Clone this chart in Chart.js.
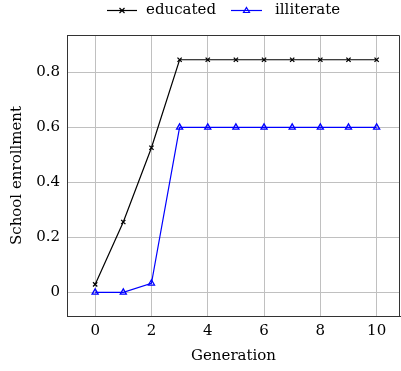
<!DOCTYPE html>
<html>
<head>
<meta charset="utf-8">
<script src="https://cdn.jsdelivr.net/npm/chart.js@4"></script>
<style>
  html, body { margin: 0; padding: 0; background: #fff; }
  #wrap { width: 401px; height: 371px; position: relative; }
</style>
</head>
<body>
<div id="wrap"><canvas id="chart" width="401" height="371"></canvas></div>
<script>
// values
const generations = [0, 1, 2, 3, 4, 5, 6, 7, 8, 9, 10];
const educated = [0.029, 0.256, 0.526, 0.846, 0.846, 0.846, 0.846, 0.846, 0.846, 0.846, 0.846];
const illiterate = [0, 0, 0.033, 0.6, 0.6, 0.6, 0.6, 0.6, 0.6, 0.6, 0.6];
const xTicks = [0, 2, 4, 6, 8, 10];
const yTicks = [0, 0.2, 0.4, 0.6, 0.8];

const FONT = '"DejaVu Serif", "Liberation Serif", serif';

function pts(ys) { return generations.map((x, i) => ({ x: x, y: ys[i] })); }

// legend drawn at top like pgfplots
const legendPlugin = {
    id: 'topLegend',
    afterDraw(chart) {
        const ctx = chart.ctx;
        const y = 10.5;
        ctx.save();
        ctx.font = '15px ' + FONT;
        ctx.textBaseline = 'middle';
        ctx.fillStyle = '#000';
        // educated
        ctx.strokeStyle = '#000'; ctx.lineWidth = 1.2;
        ctx.beginPath(); ctx.moveTo(107, y); ctx.lineTo(137, y); ctx.stroke();
        ctx.beginPath();
        ctx.moveTo(122 - 2.5, y - 2.5); ctx.lineTo(122 + 2.5, y + 2.5);
        ctx.moveTo(122 - 2.5, y + 2.5); ctx.lineTo(122 + 2.5, y - 2.5);
        ctx.stroke();
        ctx.fillText('educated', 146, y);
        // illiterate
        ctx.strokeStyle = '#0000ff';
        ctx.beginPath(); ctx.moveTo(231, y); ctx.lineTo(262, y); ctx.stroke();
        ctx.beginPath();
        ctx.moveTo(246.5, y - 3); ctx.lineTo(249.5, y + 2); ctx.lineTo(243.5, y + 2); ctx.closePath();
        ctx.stroke();
        ctx.fillText('illiterate', 275, y);
        // frame top/right
        const a = chart.chartArea;
        ctx.strokeStyle = '#333'; ctx.lineWidth = 1;
        ctx.beginPath();
        ctx.moveTo(a.left, a.top + 0.5); ctx.lineTo(a.right - 0.5, a.top + 0.5); ctx.lineTo(a.right - 0.5, a.bottom);
        ctx.stroke();
        ctx.restore();
    }
};

new Chart(document.getElementById('chart'), {
    type: 'line',
    data: {
        datasets: [
            {
                label: 'educated',
                data: pts(educated),
                borderColor: '#000',
                backgroundColor: '#000',
                borderWidth: 1.2,
                pointStyle: 'crossRot',
                pointRadius: 3,
                pointBorderWidth: 1.3,
                tension: 0
            },
            {
                label: 'illiterate',
                data: pts(illiterate),
                borderColor: '#0000ff',
                backgroundColor: 'rgba(0,0,0,0)',
                borderWidth: 1.2,
                pointStyle: 'triangle',
                pointRadius: 3.5,
                pointBorderWidth: 1.3,
                tension: 0
            }
        ]
    },
    options: {
        responsive: false,
        animation: false,
        layout: { autoPadding: false, padding: { top: 35, right: 1, left: 0, bottom: 0 } },
        plugins: { legend: { display: false }, tooltip: { enabled: false } },
        scales: {
            x: {
                type: 'linear',
                min: -1.0,
                max: 10.83,
                afterBuildTicks: s => { s.ticks = xTicks.map(v => ({ value: v })); },
                afterFit: s => { s.height = 55; s.paddingLeft = 0; s.paddingRight = 0; },
                grid: { color: '#c0c0c0', drawTicks: false, lineWidth: 1 },
                border: { color: '#333', width: 1 },
                ticks: { color: '#000', padding: 6, font: { family: FONT, size: 15 }, maxRotation: 0 },
                title: { display: true, text: 'Generation', color: '#000', padding: { top: 0, bottom: 6 }, font: { family: FONT, size: 15 } }
            },
            y: {
                min: -0.086,
                max: 0.936,
                afterBuildTicks: s => { s.ticks = yTicks.map(v => ({ value: v })); },
                afterFit: s => { s.width = 67; s.paddingTop = 0; s.paddingBottom = 0; },
                grid: { color: '#c0c0c0', drawTicks: false, lineWidth: 1 },
                border: { color: '#333', width: 1 },
                ticks: { color: '#000', padding: 7, font: { family: FONT, size: 15 },
                         callback: v => v === 0 ? '0' : v.toFixed(1) },
                title: { display: true, text: 'School enrollment', color: '#000', padding: { top: 8, bottom: 2 }, font: { family: FONT, size: 15 } }
            }
        }
    },
    plugins: [legendPlugin]
});
</script>
</body>
</html>
